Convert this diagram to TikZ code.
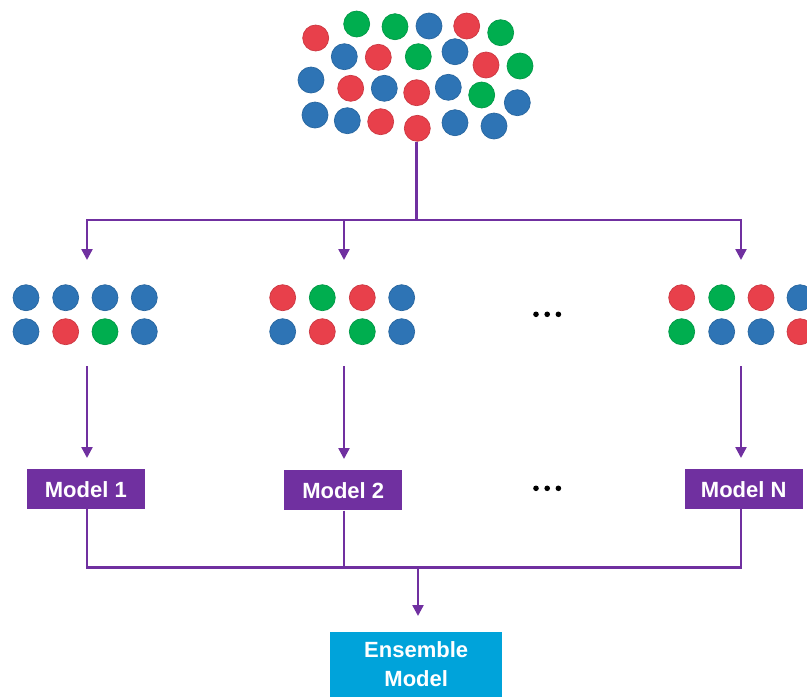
\documentclass[tikz,border=0pt]{standalone}
\usepackage{fontspec}
\setmainfont{Liberation Sans}
\usetikzlibrary{arrows.meta}
\definecolor{dotblue}{HTML}{2E74B5}
\definecolor{dotred}{HTML}{E8404B}
\definecolor{dotgreen}{HTML}{00AE4F}
\definecolor{flow}{HTML}{7030A0}
\definecolor{ens}{HTML}{00A3DA}
\tikzset{
  ball/.style={circle, inner sep=0pt, minimum size=26pt, line width=0.7pt},
  B/.style={ball, fill=dotblue, draw=dotblue!88!black},
  R/.style={ball, fill=dotred, draw=dotred!88!black},
  G/.style={ball, fill=dotgreen, draw=dotgreen!88!black},
  ellip/.style={circle, fill=black, inner sep=0pt, minimum size=5.6pt},
  link/.style={draw=flow, line width=2.4pt},
  arr/.style={link, -{Triangle[length=11pt,width=11pt]}},
  modelbox/.style={fill=flow, text=white, inner sep=0pt,
    font=\bfseries\fontsize{22}{24}\selectfont,
    minimum width=118pt, minimum height=40pt},
  ensbox/.style={fill=ens, text=white, inner sep=0pt, align=center,
    font=\bfseries\fontsize{22}{29}\selectfont,
    minimum width=172pt, minimum height=65pt},
}
\begin{document}
\begin{tikzpicture}[x=1pt, y=-1pt]
\useasboundingbox (0,0) rectangle (807,697);
\clip (0,0) rectangle (807,697);

% full data set
\foreach \c/\x/\y [count=\i] in {
  R/315.7/38, G/356.7/24, G/395/26.7, B/429/26, R/466.7/26, G/500.7/32.7,
  B/344.3/56.7, R/378.3/57.3, G/418.3/56.7, B/455/51.7, R/486/65, G/520/66,
  B/311/80, R/350.7/88.3, B/384.3/88.3, R/416.7/92.7, B/448.3/87.3, G/481.7/95, B/517.3/102.7,
  B/315/115, B/347.3/120.7, R/380.7/121.7, R/417.3/128.3, B/455/122.7, B/494/126}
  \node[\c] (d\i) at (\x,\y) {};

% bootstrap samples
\foreach \c/\x/\y [count=\i] in {
  B/26/297.7, B/65.7/297.7, B/105/297.7, B/144.3/297.7,
  B/26/331.7, R/65.7/331.7, G/105/331.7, B/144.3/331.7}
  \node[\c] (sa\i) at (\x,\y) {};
\foreach \c/\x/\y [count=\i] in {
  R/282.7/297.7, G/322.3/297.7, R/362.3/297.7, B/401.7/297.7,
  B/282.7/331.7, R/322.3/331.7, G/362.3/331.7, B/401.7/331.7}
  \node[\c] (sb\i) at (\x,\y) {};
\foreach \c/\x/\y [count=\i] in {
  R/681.7/297.7, G/721.7/297.7, R/761/297.7, B/800/297.7,
  G/681.7/331.7, B/721.7/331.7, B/761/331.7, R/800/331.7}
  \node[\c] (sn\i) at (\x,\y) {};

% ellipses
\foreach \x [count=\i] in {536,547.2,558.4} {
  \node[ellip] (ea\i) at (\x,314.3) {};
  \node[ellip] (eb\i) at (\x,488.3) {};
}

% models
\node[modelbox] (m1) at (85.8,489.2) {Model 1};
\node[modelbox] (m2) at (343.2,490.3) {Model 2};
\node[modelbox] (mN) at (743.7,489.2) {Model N};
\node[ensbox] (ens) at (416.2,664.5) {Ensemble\\Model};

% split into samples
\coordinate (src) at (416.5,142);
\coordinate (split) at (416.5,220);
\coordinate (j1) at (87,220);
\coordinate (j2) at (344,220);
\coordinate (jN) at (741,220);
\coordinate (t1) at (87,260);
\coordinate (t2) at (344,260);
\coordinate (tN) at (741,260);
\draw[link] (src) -- (split);
\draw[link, line cap=rect] (j1) -- (jN);
\draw[arr] (j1) -- (t1);
\draw[arr] (j2) -- (t2);
\draw[arr] (jN) -- (tN);

% samples to models
\coordinate (o1) at (87,366);
\coordinate (o2) at (344,366);
\coordinate (oN) at (741,366);
\coordinate (i1) at (87,458);
\coordinate (i2) at (344,459);
\coordinate (iN) at (741,458);
\draw[arr] (o1) -- (i1);
\draw[arr] (o2) -- (i2);
\draw[arr] (oN) -- (iN);

% models to ensemble
\coordinate (bus) at (418,567.3);
\coordinate (etip) at (418,616);
\draw[link, line join=miter] (m1.south -| o1) |- (bus -| oN) -- (mN.south -| oN);
\draw[link] (m2.south -| o2) -- (bus -| o2);
\draw[arr] (bus) -- (etip);
\end{tikzpicture}
\end{document}
